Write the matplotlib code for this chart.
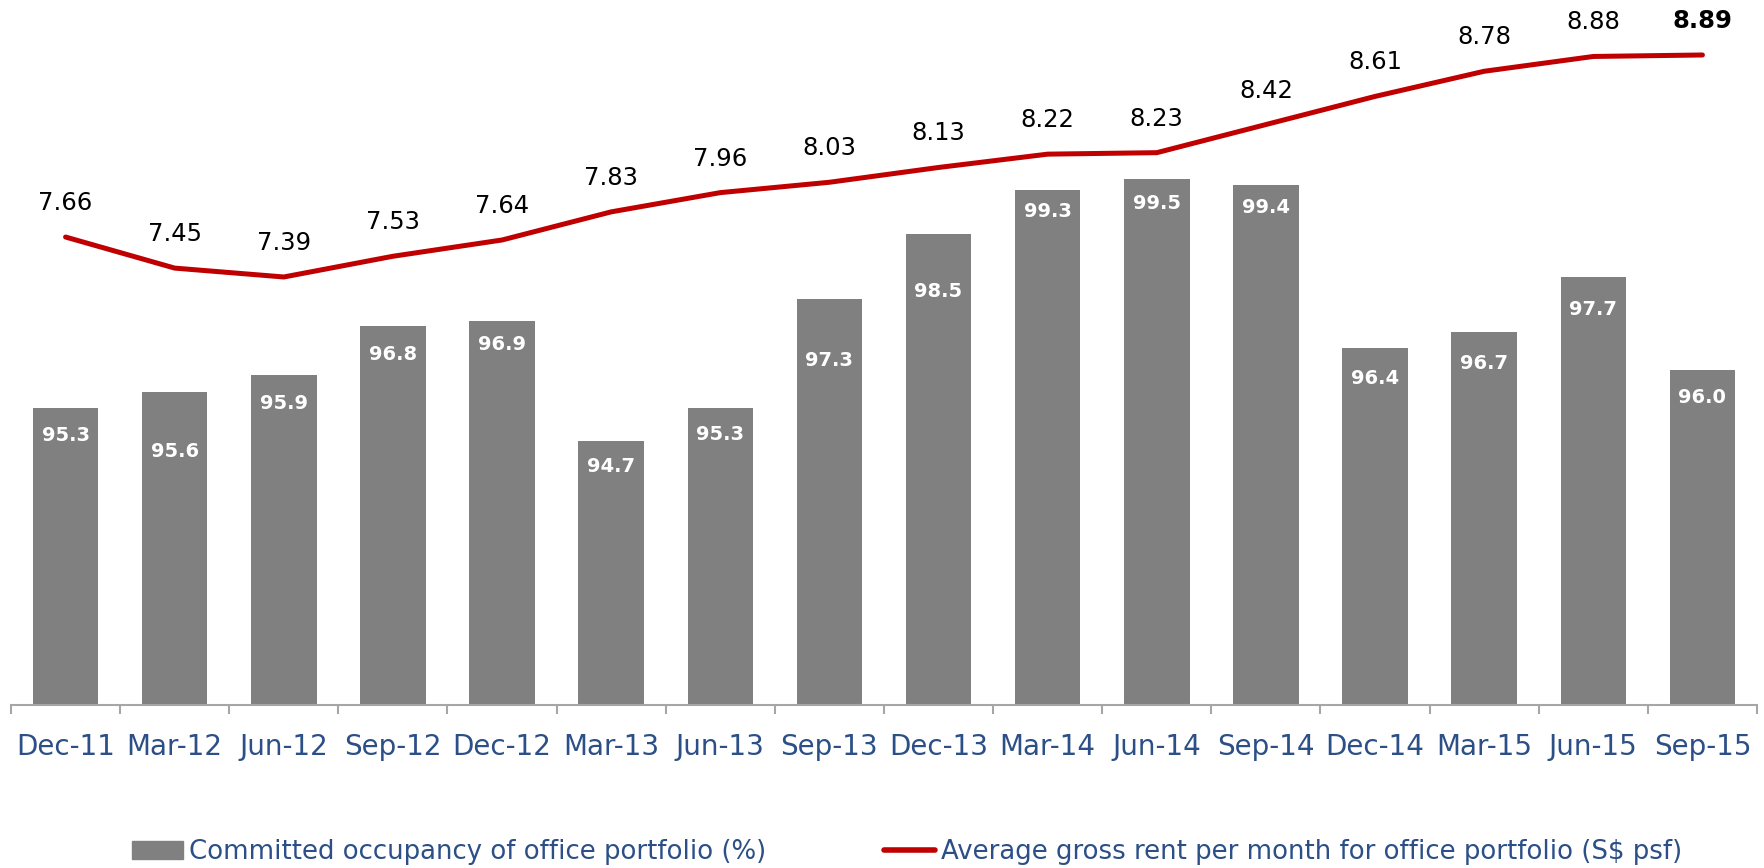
import matplotlib
matplotlib.use('Agg')
import matplotlib.pyplot as plt
import numpy as np
from matplotlib.patches import Patch
from matplotlib.lines import Line2D

# data
quarters = ['Dec-11', 'Mar-12', 'Jun-12', 'Sep-12', 'Dec-12', 'Mar-13', 'Jun-13', 'Sep-13',
            'Dec-13', 'Mar-14', 'Jun-14', 'Sep-14', 'Dec-14', 'Mar-15', 'Jun-15', 'Sep-15']
occupancy = [95.3, 95.6, 95.9, 96.8, 96.9, 94.7, 95.3, 97.3,
             98.5, 99.3, 99.5, 99.4, 96.4, 96.7, 97.7, 96.0]
rent = [7.66, 7.45, 7.39, 7.53, 7.64, 7.83, 7.96, 8.03,
        8.13, 8.22, 8.23, 8.42, 8.61, 8.78, 8.88, 8.89]

# label offsets below bar top (pixels), as placed in the original
bar_label_drop = [28, 60, 28, 28, 24, 26, 27, 62, 58, 22, 24, 23, 30, 32, 32, 28]

bar_color = '#808080'
line_color = '#C00000'
text_blue = '#2B4F86'

plt.rcParams['font.family'] = ['DejaVu Sans']

fig = plt.figure(figsize=(17.65, 8.68), dpi=100)
ax = fig.add_axes([11 / 1765, 1 - 705 / 868, 1746 / 1765, 705 / 868])
ax2 = ax.twinx()

x = np.arange(len(quarters))
ax.bar(x, occupancy, width=0.6, color=bar_color, zorder=2)
ax.set_ylim(89.85, 89.85 + 705 / 54.5)
ax.set_xlim(-0.5, len(quarters) - 0.5)

for i, v in enumerate(occupancy):
    ax.annotate(f'{v:.1f}', (i, v), xytext=(0, -bar_label_drop[i]), textcoords='offset pixels',
                ha='center', va='center', color='white', fontsize=14, fontweight='bold')

ax2.plot(x, rent, color=line_color, linewidth=3.6, solid_capstyle='round', zorder=3)
ax2.set_ylim(4.498, 4.498 + 705 / 148)
for i, v in enumerate(rent):
    ax2.annotate(f'{v:.2f}', (i, v), xytext=(0, 34), textcoords='offset pixels',
                 ha='center', va='center', color='black', fontsize=17.5,
                 fontweight='bold' if i == len(rent) - 1 else 'normal')

# axis styling: only the bottom line with ticks between categories
for a in (ax, ax2):
    for side in ('top', 'right', 'left'):
        a.spines[side].set_visible(False)
    a.set_yticks([])
ax2.spines['bottom'].set_visible(False)
ax.spines['bottom'].set_color('#A6A6A6')
ax.spines['bottom'].set_linewidth(1.5)

ax.set_xticks(x)
ax.set_xticklabels(quarters, fontsize=20, color=text_blue)
ax.tick_params(axis='x', which='major', length=0, pad=20)
ax.set_xticks(np.arange(-0.5, len(quarters)), minor=True)
ax.tick_params(axis='x', which='minor', length=6.5, width=1.5, color='#A6A6A6', direction='out')

# legend
handles = [Patch(color=bar_color), Line2D([], [], color=line_color, linewidth=4, solid_capstyle='round')]
labels = ['Committed occupancy of office portfolio (%)',
          'Average gross rent per month for office portfolio (S$ psf)']
leg = fig.legend(handles, labels, loc='center left', bbox_to_anchor=(132 / 1765, 1 - 852 / 868),
                 ncol=2, frameon=False, fontsize=18.7, handlelength=1.96, handleheight=0.65,
                 handletextpad=0.23, columnspacing=4.55, borderaxespad=0, borderpad=0)
for t in leg.get_texts():
    t.set_color(text_blue)

fig.savefig('out.png', dpi=100)
